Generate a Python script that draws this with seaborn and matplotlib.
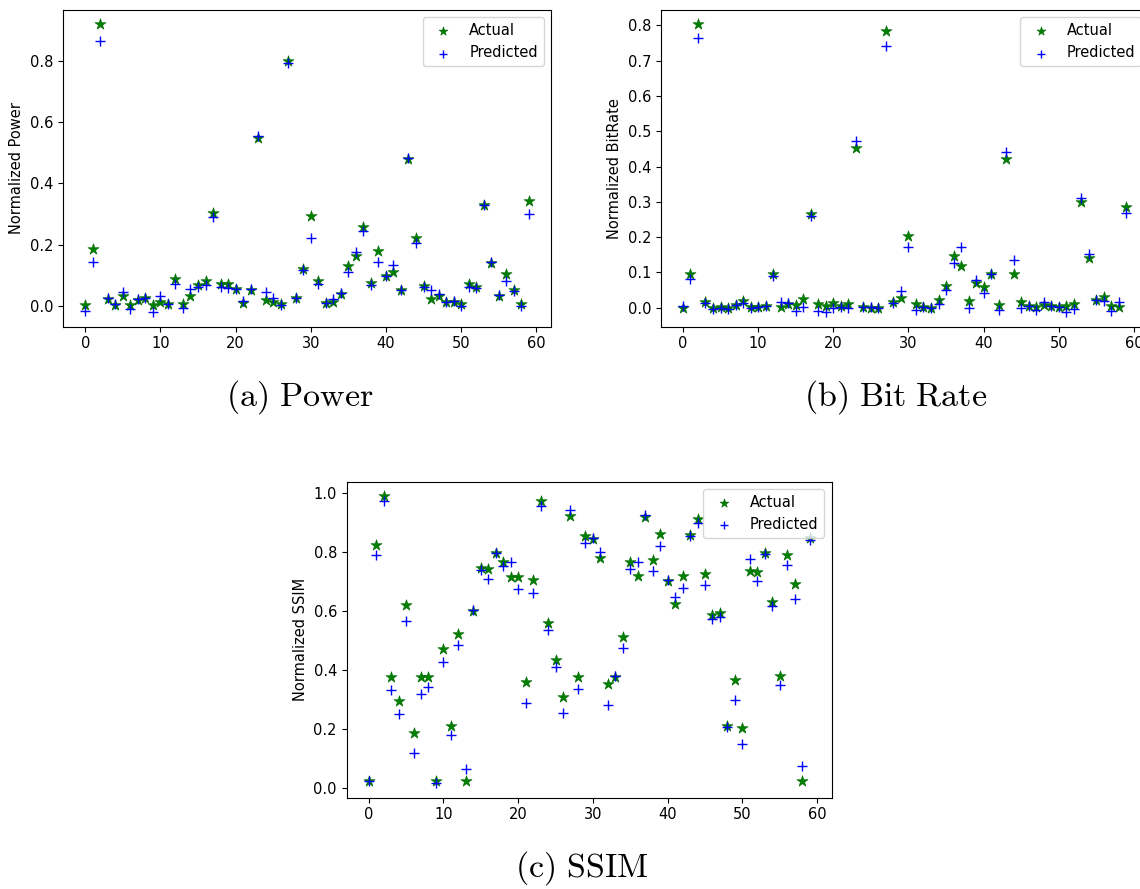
import numpy as np
import pandas as pd
import matplotlib
matplotlib.use("Agg")
import matplotlib.pyplot as plt
import seaborn as sns

plt.rcParams['mathtext.fontset'] = 'cm'

idx = list(range(60))

power_actual = [0.003, 0.185, 0.921, 0.022, 0.003, 0.031, 0.003, 0.017, 0.026, 0.002,
                0.013, 0.005, 0.087, 0.005, 0.033, 0.066, 0.081, 0.303, 0.072, 0.071,
                0.055, 0.008, 0.052, 0.549, 0.017, 0.013, 0.005, 0.802, 0.025, 0.120,
                0.293, 0.081, 0.008, 0.011, 0.037, 0.129, 0.164, 0.256, 0.075, 0.179,
                0.098, 0.109, 0.052, 0.479, 0.221, 0.063, 0.022, 0.031, 0.011, 0.013,
                0.004, 0.071, 0.062, 0.328, 0.140, 0.033, 0.104, 0.052, 0.004, 0.343]
power_pred = [-0.019, 0.142, 0.866, 0.024, 0.005, 0.044, -0.011, 0.022, 0.026, -0.022,
              0.031, 0.005, 0.072, -0.008, 0.055, 0.060, 0.068, 0.289, 0.062, 0.059,
              0.055, 0.014, 0.055, 0.555, 0.044, 0.026, 0.003, 0.796, 0.025, 0.118,
              0.222, 0.071, 0.008, 0.022, 0.042, 0.109, 0.175, 0.245, 0.066, 0.142,
              0.098, 0.133, 0.052, 0.483, 0.205, 0.060, 0.052, 0.038, 0.011, 0.015,
              -0.002, 0.062, 0.057, 0.328, 0.142, 0.035, 0.082, 0.047, -0.002, 0.299]

bitrate_actual = [0.000, 0.095, 0.803, 0.015, 0.000, 0.003, -0.002, 0.009, 0.018, 0.001,
                  0.001, 0.006, 0.096, 0.001, 0.010, 0.009, 0.025, 0.265, 0.010, 0.004,
                  0.013, 0.006, 0.010, 0.453, 0.003, 0.000, 0.000, 0.785, 0.015, 0.027,
                  0.204, 0.010, 0.001, -0.002, 0.023, 0.062, 0.146, 0.117, 0.020, 0.070,
                  0.058, 0.095, 0.008, 0.422, 0.095, 0.017, 0.006, 0.001, 0.009, 0.004,
                  0.003, 0.006, 0.010, 0.301, 0.142, 0.022, 0.031, 0.006, 0.001, 0.286]
bitrate_pred = [0.004, 0.081, 0.764, 0.012, -0.004, -0.002, -0.003, 0.009, 0.013, -0.001,
                0.001, 0.006, 0.091, 0.015, 0.012, -0.009, 0.001, 0.261, -0.009, -0.013,
                0.000, 0.001, -0.002, 0.474, 0.003, 0.001, -0.002, 0.743, 0.012, 0.047,
                0.172, -0.006, 0.001, -0.002, 0.010, 0.050, 0.127, 0.172, -0.002, 0.079,
                0.042, 0.095, -0.007, 0.442, 0.136, 0.000, 0.004, -0.007, 0.015, 0.004,
                0.003, -0.013, -0.004, 0.310, 0.151, 0.022, 0.020, -0.009, 0.017, 0.269]

ssim_actual = [0.024, 0.824, 0.989, 0.376, 0.293, 0.621, 0.185, 0.374, 0.377, 0.024,
               0.469, 0.210, 0.521, 0.024, 0.598, 0.745, 0.743, 0.795, 0.764, 0.716,
               0.716, 0.359, 0.704, 0.972, 0.558, 0.433, 0.306, 0.920, 0.376, 0.852,
               0.845, 0.779, 0.351, 0.374, 0.510, 0.766, 0.717, 0.918, 0.772, 0.860,
               0.701, 0.623, 0.718, 0.858, 0.912, 0.726, 0.584, 0.592, 0.211, 0.364,
               0.204, 0.736, 0.732, 0.796, 0.629, 0.379, 0.790, 0.690, 0.024, 0.847]
ssim_pred = [0.022, 0.790, 0.972, 0.331, 0.250, 0.564, 0.119, 0.319, 0.342, 0.015,
             0.425, 0.178, 0.484, 0.063, 0.601, 0.738, 0.709, 0.796, 0.753, 0.764,
             0.674, 0.288, 0.661, 0.954, 0.535, 0.408, 0.254, 0.940, 0.336, 0.829,
             0.847, 0.800, 0.281, 0.378, 0.473, 0.741, 0.764, 0.925, 0.736, 0.820,
             0.706, 0.646, 0.677, 0.852, 0.898, 0.686, 0.573, 0.580, 0.206, 0.297,
             0.148, 0.777, 0.702, 0.794, 0.616, 0.347, 0.754, 0.641, 0.075, 0.841]

ylabels = ["Normalized Power", "Normalized BitRate", "Normalized SSIM"]
captions = [r"$\mathrm{(a)\ Power}$", r"$\mathrm{(b)\ Bit\ Rate}$", r"$\mathrm{(c)\ SSIM}$"]

fig = plt.figure(figsize=(11.4, 8.89), dpi=100)
positions = [
    [0.0553, 0.6325, 0.428, 0.3562],
    [0.5796, 0.6325, 0.428, 0.3562],
    [0.3041, 0.1027, 0.4254, 0.3555],
]
cap_pos = [(0.263, 0.5534), (0.786, 0.5534), (0.51, 0.0236)]

series = [(power_actual, power_pred), (bitrate_actual, bitrate_pred), (ssim_actual, ssim_pred)]

for k, (act, pred) in enumerate(series):
    ax = fig.add_axes(positions[k])
    df = pd.DataFrame({"x": idx, "actual": act, "pred": pred})
    sns.scatterplot(data=df, x="x", y="actual", marker="*", color="green",
                    edgecolor="darkgreen", linewidth=0.4, s=70, label="Actual", ax=ax)
    sns.scatterplot(data=df, x="x", y="pred", marker="+", color="blue",
                    linewidth=1.0, s=60, label="Predicted", ax=ax)
    ax.set_xlabel("")
    ax.set_ylabel(ylabels[k], fontsize=10.5)
    ax.tick_params(labelsize=10.5)
    ax.legend(loc="upper right", fontsize=10.5, markerscale=0.8)
    fig.text(cap_pos[k][0], cap_pos[k][1], captions[k], ha="center", va="center", fontsize=24.5)

fig.savefig("out.png", dpi=100)
